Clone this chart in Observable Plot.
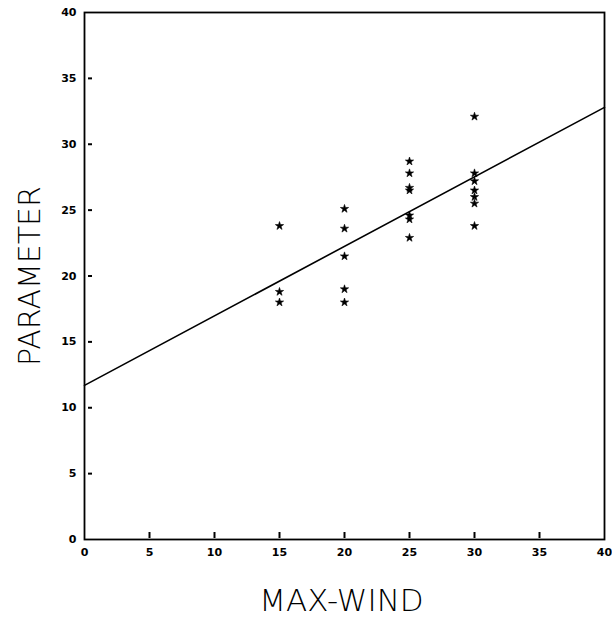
<!DOCTYPE html>
<html>
<head>
<meta charset="utf-8">
<script src="https://cdn.jsdelivr.net/npm/d3@7"></script>
<script src="https://cdn.jsdelivr.net/npm/@observablehq/plot@0.6"></script>
<style>
  html, body { margin: 0; padding: 0; background: #fff; }
</style>
</head>
<body>
<div id="chart"></div>
<script>
// Observations: max wind (x) and parameter (y)
const windX = [15, 15, 15,
               20, 20, 20, 20, 20,
               25, 25, 25, 25, 25, 25, 25,
               30, 30, 30, 30, 30, 30, 30];
const paramY = [23.8, 18.8, 18.0,
                25.1, 23.6, 21.5, 19.0, 18.0,
                28.7, 27.8, 26.7, 26.5, 24.6, 24.3, 22.9,
                32.1, 27.8, 27.2, 26.5, 26.0, 25.5, 23.8];
// Fitted line end points
const fitX = [0, 40];
const fitY = [11.7, 32.8];
const xTicks = [0, 5, 10, 15, 20, 25, 30, 35, 40];
const yTicks = [0, 5, 10, 15, 20, 25, 30, 35, 40];
const xInnerTicks = [5, 10, 15, 20, 25, 30, 35];
const yInnerTicks = [5, 10, 15, 20, 25, 30, 35];

const points = windX.map((x, i) => ({x, y: paramY[i]}));
const fit = fitX.map((x, i) => ({x, y: fitY[i]}));

const W = 612, H = 618, mL = 84, mR = 8, mT = 12, mB = 79;
const frameW = W - mL - mR, frameH = H - mT - mB;

const chart = Plot.plot({
  width: W,
  height: H,
  marginLeft: mL,
  marginRight: mR,
  marginTop: mT,
  marginBottom: mB,
  style: {fontFamily: "DejaVu Sans", fontSize: "11px", fontWeight: "bold", color: "#000", background: "#fff"},
  x: {domain: [0, 40]},
  y: {domain: [0, 40]},
  marks: [
    Plot.frame({stroke: "#000", strokeWidth: 1.8}),
    Plot.axisX({ticks: xTicks, tickSize: 0, tickPadding: 9, label: null}),
    Plot.axisY({ticks: yTicks, tickSize: 0, tickPadding: 8, label: null}),
    Plot.tickX(xInnerTicks, {x: d => d, insetTop: frameH - 7, insetBottom: 1, stroke: "#000", strokeWidth: 2}),
    Plot.tickY(yInnerTicks, {y: d => d, insetLeft: 4, insetRight: frameW - 8, stroke: "#000", strokeWidth: 2}),
    Plot.line(fit, {x: "x", y: "y", stroke: "#000", strokeWidth: 1.6}),
    Plot.dot(points, {x: "x", y: "y", symbol: "star", r: 2.6, fill: "#000", stroke: "#000", strokeWidth: 0.6}),
    Plot.text(["MAX-WIND"], {frameAnchor: "bottom", dy: 62, dx: -3, text: d => d, fontSize: 31, fontWeight: 200,
      fontFamily: "DejaVu Sans", fill: "#000", lineAnchor: "middle", letterSpacing: 7}),
    Plot.text(["PARAMETER"], {frameAnchor: "left", dx: -54, rotate: -90, text: d => d, fontSize: 30, fontWeight: 200,
      fontFamily: "DejaVu Sans", fill: "#000", lineAnchor: "middle", textAnchor: "middle", letterSpacing: 5})
  ]
});
document.getElementById("chart").appendChild(chart);
</script>
</body>
</html>
